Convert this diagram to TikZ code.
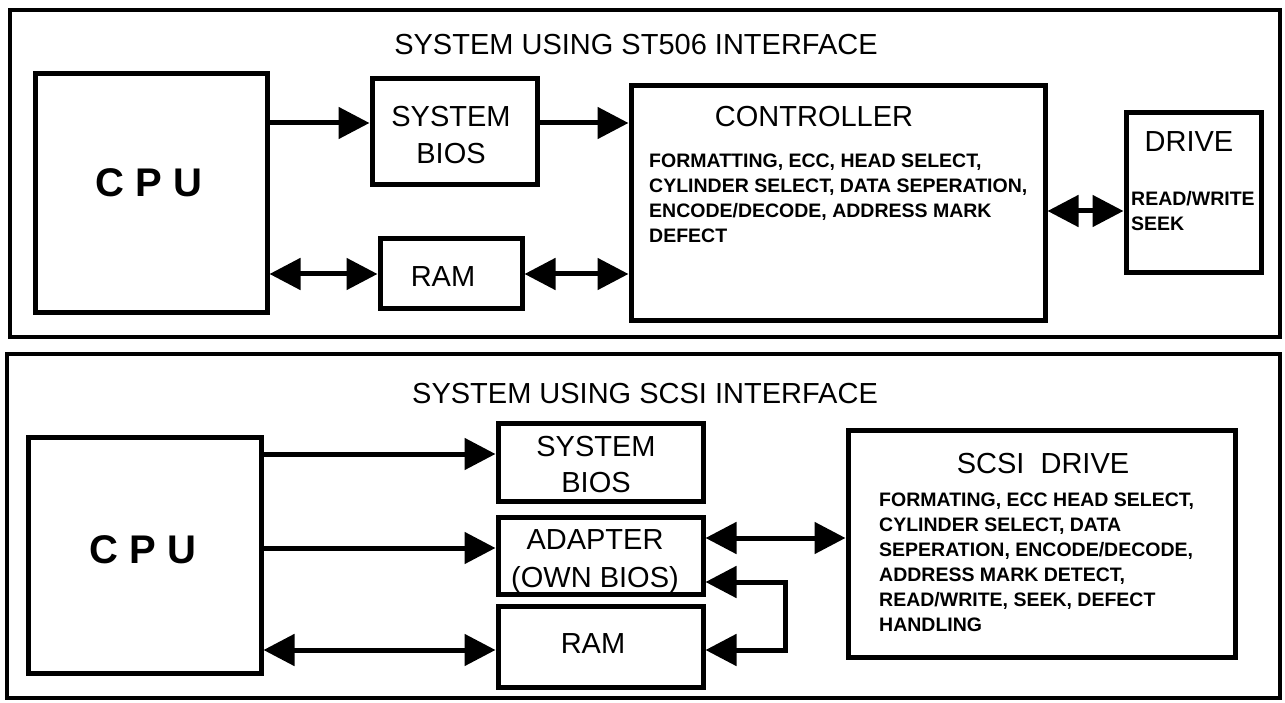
\documentclass[tikz,border=0pt]{standalone}
\usepackage{fontspec}
\setmainfont{Liberation Sans}
\usetikzlibrary{arrows.meta}
\begin{document}
\begin{tikzpicture}[x=1pt,y=-1pt,line join=miter]
\tikzset{
  panel/.style={draw, line width=4.5, inner sep=0, outer sep=0},
  box/.style={draw, line width=5, inner sep=0},
  ttl/.style={font=\fontsize{29}{34}\selectfont, inner sep=0, anchor=base},
  cpulbl/.style={font=\bfseries\fontsize{40}{46}\selectfont, inner sep=0, anchor=base},
  body/.style={font=\bfseries\fontsize{19.5}{25}\selectfont, inner sep=0, anchor=north west, align=left},
  arr/.style={line width=5, -{Triangle[length=31pt,width=31pt]}},
  darr/.style={line width=5, {Triangle[length=31pt,width=31pt]}-{Triangle[length=31pt,width=31pt]}}
}
\useasboundingbox (0,0) rectangle (1285,703);
% panels
\node[panel, minimum width=1270, minimum height=327] (p1) at (645,173.5) {};
\node[panel, minimum width=1273, minimum height=344] (p2) at (643.5,526) {};
% ---------- top panel ----------
\node[ttl] (t1) at (636,55) {SYSTEM USING ST506 INTERFACE};
\node[box, minimum width=232, minimum height=239] (cpu1) at (151,193.5) {};
\node[cpulbl] (cpu1t) at (149,197) {C P U};
\node[box, minimum width=165, minimum height=106] (bios1) at (454.5,132) {};
\node[ttl] (bios1a) at (451,127) {SYSTEM};
\node[ttl] (bios1b) at (451,164) {BIOS};
\node[box, minimum width=142, minimum height=70] (ram1) at (451,274) {};
\node[ttl] (ram1t) at (443,287) {RAM};
\node[box, minimum width=414, minimum height=235] (ctrl) at (838,203.5) {};
\node[ttl] (ctrlt) at (814,127) {CONTROLLER};
\node[body] (ctrlb) at (649,154) {FORMATTING, ECC, HEAD SELECT,\\CYLINDER SELECT, DATA SEPERATION,\\ENCODE/DECODE, ADDRESS MARK\\DEFECT};
\node[box, minimum width=135, minimum height=160] (drive) at (1193.5,193) {};
\node[ttl] (drivet) at (1189,152) {DRIVE};
\node[body] (driveb) at (1131,191) {READ/WRITE\\SEEK};
% top arrows
\draw[arr] (cpu1.east |- 0,123) -- (bios1.west |- 0,123);
\draw[arr] (bios1.east |- 0,123) -- (ctrl.west |- 0,123);
\draw[darr] (cpu1.east |- 0,274) -- (ram1.west |- 0,274);
\draw[darr] (ram1.east |- 0,274) -- (ctrl.west |- 0,274);
\draw[darr] (ctrl.east |- 0,211) -- (drive.west |- 0,211);
% ---------- bottom panel ----------
\node[ttl] (t2) at (645,403) {SYSTEM USING SCSI INTERFACE};
\node[box, minimum width=233, minimum height=236] (cpu2) at (144.5,555) {};
\node[cpulbl] (cpu2t) at (143,563) {C P U};
\node[box, minimum width=205, minimum height=78] (bios2) at (600.5,462) {};
\node[ttl] (bios2a) at (596,456) {SYSTEM};
\node[ttl] (bios2b) at (596,492) {BIOS};
\node[box, minimum width=205, minimum height=77] (adapt) at (600.5,555.5) {};
\node[ttl] (adapta) at (595,549) {ADAPTER};
\node[ttl] (adaptb) at (595,587) {(OWN BIOS)};
\node[box, minimum width=205, minimum height=81] (ram2) at (600.5,646.5) {};
\node[ttl] (ram2t) at (593,653) {RAM};
\node[box, minimum width=387, minimum height=227] (scsi) at (1041.5,543.5) {};
\node[ttl] (scsit) at (1043,473) {SCSI\ \ DRIVE};
\node[body] (scsib) at (879,493) {FORMATING, ECC HEAD SELECT,\\CYLINDER SELECT, DATA\\SEPERATION, ENCODE/DECODE,\\ADDRESS MARK DETECT,\\READ/WRITE, SEEK, DEFECT\\HANDLING};
% bottom arrows
\draw[arr] (cpu2.east |- 0,454) -- (bios2.west |- 0,454);
\draw[arr] (cpu2.east |- 0,548) -- (adapt.west |- 0,548);
\draw[darr] (cpu2.east |- 0,650) -- (ram2.west |- 0,650);
\draw[darr] (adapt.east |- 0,538) -- (scsi.west |- 0,538);
\draw[darr] (ram2.east |- 0,650) -| (785,582) -- (adapt.east |- 0,582);
\end{tikzpicture}
\end{document}
